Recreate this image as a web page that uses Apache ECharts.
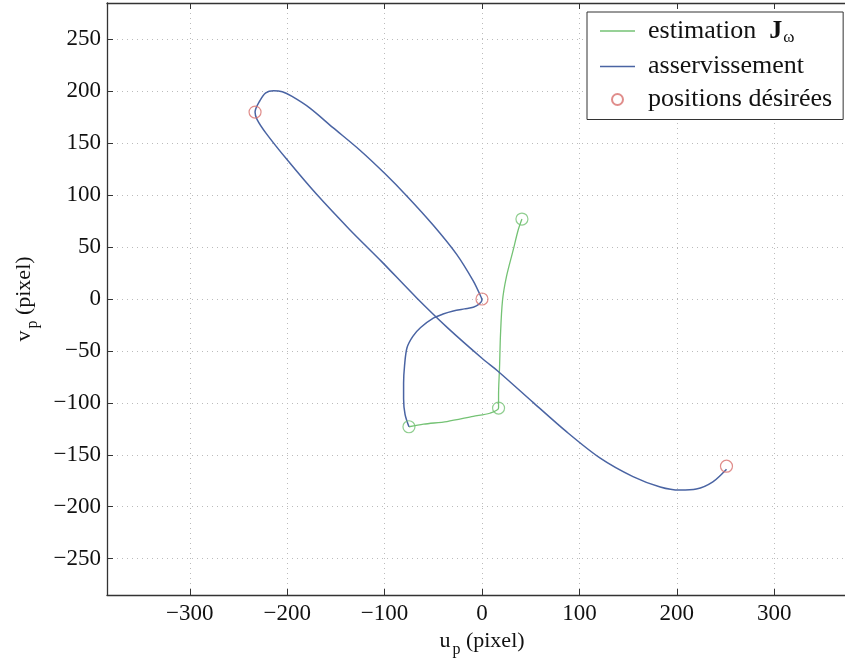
<!DOCTYPE html>
<html>
<head>
<meta charset="utf-8">
<script src="https://cdn.jsdelivr.net/npm/echarts@6/dist/echarts.min.js"></script>
<style>
  html, body { margin: 0; padding: 0; background: #fff; overflow: hidden; }
  /* the plot box runs past the right edge of the window, as in the scan */
  #chart { width: 857px; height: 666px; }
</style>
</head>
<body>
<div id="chart"></div>
<script>
// tick values
var xTicks = [-300, -200, -100, 0, 100, 200, 300];
var yTicks = [-250, -200, -150, -100, -50, 0, 50, 100, 150, 200, 250];

// trajectory with the estimated jacobian (u, v)
var greenPath = [
  [41, 77], [37, 66], [32, 47], [25, 21], [21, -2], [19, -34], [18, -66],
  [17, -92], [17, -105], [8, -110], [-9, -113], [-36, -118], [-60, -120.5], [-75, -123]
];
// servoing trajectory (u, v)
var bluePath = [
  [-75, -123], [-79, -111], [-80.5, -96], [-80.5, -81], [-79.5, -64], [-77, -47],
  [-71, -36], [-63, -27.5], [-50, -18.5], [-40, -14.5], [-29.5, -11.5], [-18, -9.5],
  [-9, -8], [-3, -5], [0, -1],
  [-2.5, 5], [-9, 17.5], [-26, 43], [-50, 71], [-77, 99], [-100, 121], [-125, 143],
  [-153, 165], [-177, 184], [-195, 195], [-205, 199.5], [-214, 200.5], [-222, 198.5],
  [-228, 191], [-233, 180],
  [-231, 173], [-222, 160], [-200, 134], [-170, 101], [-136, 67], [-103, 36],
  [-67, 1], [-35, -28], [0, -57], [17, -70], [53, -100], [87, -128], [121, -153],
  [155, -171], [183, -181], [203, -184], [220, -183], [237, -176], [251, -164]
];
// markers
var greenMarks = [[41, 77], [17, -105], [-75, -123]];
var redMarks = [[-233, 180], [0, 0], [251, -161]];

var serif = "'Liberation Serif', 'Times New Roman', serif";
var blue = '#4a64a3';
var green = '#74c274';
var red = '#d8706e';
var lineIcon = 'path://M0,0L35,0L35,1.3L0,1.3Z';

function fmt(v) {
  return v < 0 ? '\u2212' + (-v) : String(v);
}

// axis titles
var axisRich = {
  n: { fontFamily: serif, fontSize: 22, color: '#111' },
  s: { fontFamily: serif, fontSize: 16, color: '#111', padding: [17, 0, 0, 2] }
};
// legend texts
var legendRich = {
  n: { fontFamily: serif, fontSize: 26, color: '#111' },
  b: { fontFamily: serif, fontSize: 26, fontWeight: 'bold', color: '#111' },
  s: { fontFamily: serif, fontSize: 17, color: '#111', padding: [14, 0, 0, 1] }
};

var chart = echarts.init(document.getElementById('chart'), null, { renderer: 'canvas' });

var option = {
  backgroundColor: '#fff',
  animation: false,
  grid: { left: 107, top: 3, right: 0, bottom: 71, containLabel: false },
  legend: {
    orient: 'vertical',
    left: 587,
    top: 12,
    padding: [6, 11, 7, 13],
    itemGap: 7,
    itemWidth: 35,
    itemHeight: 11,
    backgroundColor: '#fff',
    borderColor: '#333',
    borderWidth: 1,
    selectedMode: false,
    textStyle: { fontFamily: serif, fontSize: 26, color: '#111', padding: [0, 0, 0, 8], rich: legendRich },
    formatter: function (name) {
      if (name === 'estimation J\u03c9') return '{n|estimation  }{b|J}{s|\u03c9}';
      return '{n|' + name + '}';
    },
    data: [
      { name: 'estimation J\u03c9', icon: lineIcon },
      { name: 'asservissement', icon: lineIcon },
      { name: 'positions d\u00e9sir\u00e9es', icon: 'circle' }
    ]
  },
  xAxis: [{
    type: 'value',
    min: -385,
    max: 385,
    name: '{n|u}{s|p}{n| (pixel)}',
    nameLocation: 'middle',
    nameGap: 26,
    nameTextStyle: { rich: axisRich },
    axisLine: { onZero: false, lineStyle: { color: '#333', width: 1.3 } },
    axisTick: { inside: true, length: 6, customValues: xTicks, lineStyle: { color: '#333' } },
    axisLabel: { customValues: xTicks, formatter: fmt, fontFamily: serif, fontSize: 23, color: '#111', margin: 7 },
    splitLine: { show: true, lineStyle: { color: '#bbb', type: [1, 4], width: 1 } }
  }, {
    type: 'value',
    position: 'top',
    min: -385,
    max: 385,
    axisLine: { show: true, onZero: false, lineStyle: { color: '#333', width: 1.3 } },
    axisTick: { show: true, inside: true, length: 6, customValues: xTicks, lineStyle: { color: '#333' } },
    axisLabel: { show: false },
    splitLine: { show: false }
  }],
  yAxis: [{
    type: 'value',
    min: -285,
    max: 285,
    name: '{n|v}{s|p}{n| (pixel)}',
    nameLocation: 'middle',
    nameRotate: 90,
    nameGap: 66,
    nameTextStyle: { rich: axisRich },
    axisLine: { show: true, onZero: false, lineStyle: { color: '#333', width: 1.3 } },
    axisTick: { show: true, inside: true, length: 6, customValues: yTicks, lineStyle: { color: '#333' } },
    axisLabel: { customValues: yTicks, formatter: fmt, fontFamily: serif, fontSize: 23, color: '#111', margin: 6 },
    splitLine: { show: true, lineStyle: { color: '#bbb', type: [1, 4], width: 1 } }
  }],
  series: [
    {
      name: 'estimation J\u03c9',
      type: 'line',
      data: greenPath,
      symbol: 'none',
      smooth: 0.3,
      color: green,
      lineStyle: { color: green, width: 1.3 }
    },
    {
      name: 'asservissement',
      type: 'line',
      data: bluePath,
      symbol: 'none',
      smooth: 0.3,
      color: blue,
      lineStyle: { color: blue, width: 1.5 }
    },
    {
      name: 'positions d\u00e9sir\u00e9es',
      type: 'scatter',
      data: redMarks,
      symbol: 'circle',
      symbolSize: 12,
      itemStyle: { color: 'rgba(0,0,0,0)', borderColor: red, borderWidth: 1.2 },
      z: 5
    },
    {
      name: 'marques estimation',
      type: 'scatter',
      data: greenMarks,
      symbol: 'circle',
      symbolSize: 12,
      itemStyle: { color: 'rgba(0,0,0,0)', borderColor: green, borderWidth: 1.2 },
      z: 5
    }
  ]
};

chart.setOption(option);
</script>
</body>
</html>
